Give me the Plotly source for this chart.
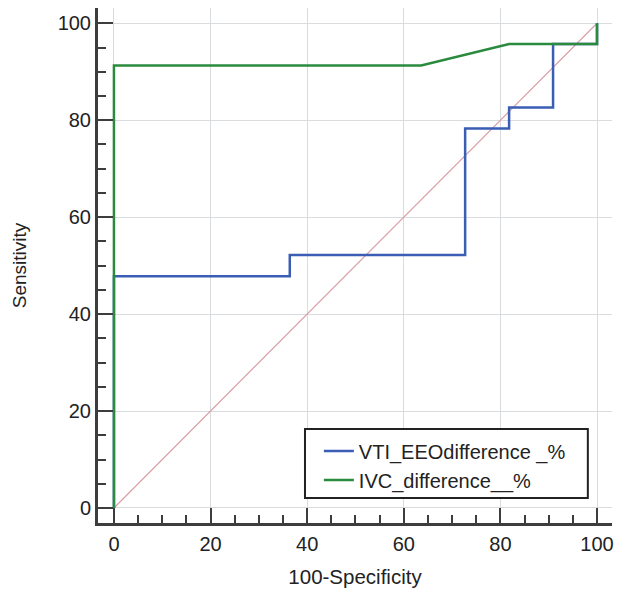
import plotly.graph_objects as go

# ROC data (100-Specificity, Sensitivity)
vti_x = [0, 0, 36.4, 36.4, 72.7, 72.7, 81.8, 81.8, 90.9, 90.9, 100, 100]
vti_y = [0, 47.8, 47.8, 52.2, 52.2, 78.3, 78.3, 82.6, 82.6, 95.7, 95.7, 100]
ivc_x = [0, 0, 63.6, 81.8, 100, 100]
ivc_y = [0, 91.3, 91.3, 95.7, 95.7, 100]
diag_x = [0, 100]
diag_y = [0, 100]

names = ["VTI_EEOdifference _%", "IVC_difference__%"]
tickvals = [0, 20, 40, 60, 80, 100]

FONT = "Liberation Sans, Arial, sans-serif"

fig = go.Figure()
fig.add_trace(go.Scatter(x=diag_x, y=diag_y, mode="lines",
                         line=dict(color="#d9a0a6", width=1.2), showlegend=False, hoverinfo="skip"))
fig.add_trace(go.Scatter(x=vti_x, y=vti_y, mode="lines", name=names[0],
                         line=dict(color="#3a5eb4", width=2.5)))
fig.add_trace(go.Scatter(x=ivc_x, y=ivc_y, mode="lines", name=names[1],
                         line=dict(color="#2a8a3e", width=2.5)))

axis_common = dict(
    showline=True, linecolor="#3d3d3d", linewidth=3,
    ticks="inside", ticklen=15, tickwidth=2, tickcolor="#3d3d3d",
    tickvals=tickvals,
    showgrid=True, gridcolor="#d9dcdf", gridwidth=1,
    zeroline=False, automargin=False,
    minor=dict(ticks="inside", ticklen=8, tickwidth=1.5, tickcolor="#3d3d3d", dtick=5, showgrid=False),
    tickfont=dict(family=FONT, size=20, color="#222"),
)

fig.update_xaxes(range=[-3.3, 103.1], title_text="100-Specificity", title_standoff=16,
                 title_font=dict(family=FONT, size=20.5, color="#222"),
                 ticklabelstandoff=1, **axis_common)
fig.update_yaxes(range=[-3.1, 103.15], title_text="Sensitivity", title_standoff=26,
                 title_font=dict(family=FONT, size=19, color="#222"),
                 ticklabelstandoff=0, **axis_common)

# legend frame
fig.add_shape(type="rect", xref="paper", yref="paper",
              x0=0.4027, x1=0.953, y0=0.0485, y1=0.1825,
              line=dict(color="#222", width=2), fillcolor="white", layer="above")

fig.update_layout(
    width=618, height=585,
    margin=dict(l=90, r=14, t=0, b=70),
    plot_bgcolor="white", paper_bgcolor="white",
    legend=dict(x=0.4297, y=0.1775, xanchor="left", yanchor="top",
                borderwidth=0, bgcolor="rgba(0,0,0,0)",
                font=dict(family=FONT, size=20, color="#222"),
                tracegroupgap=0),
)

fig.write_html("out.html")
